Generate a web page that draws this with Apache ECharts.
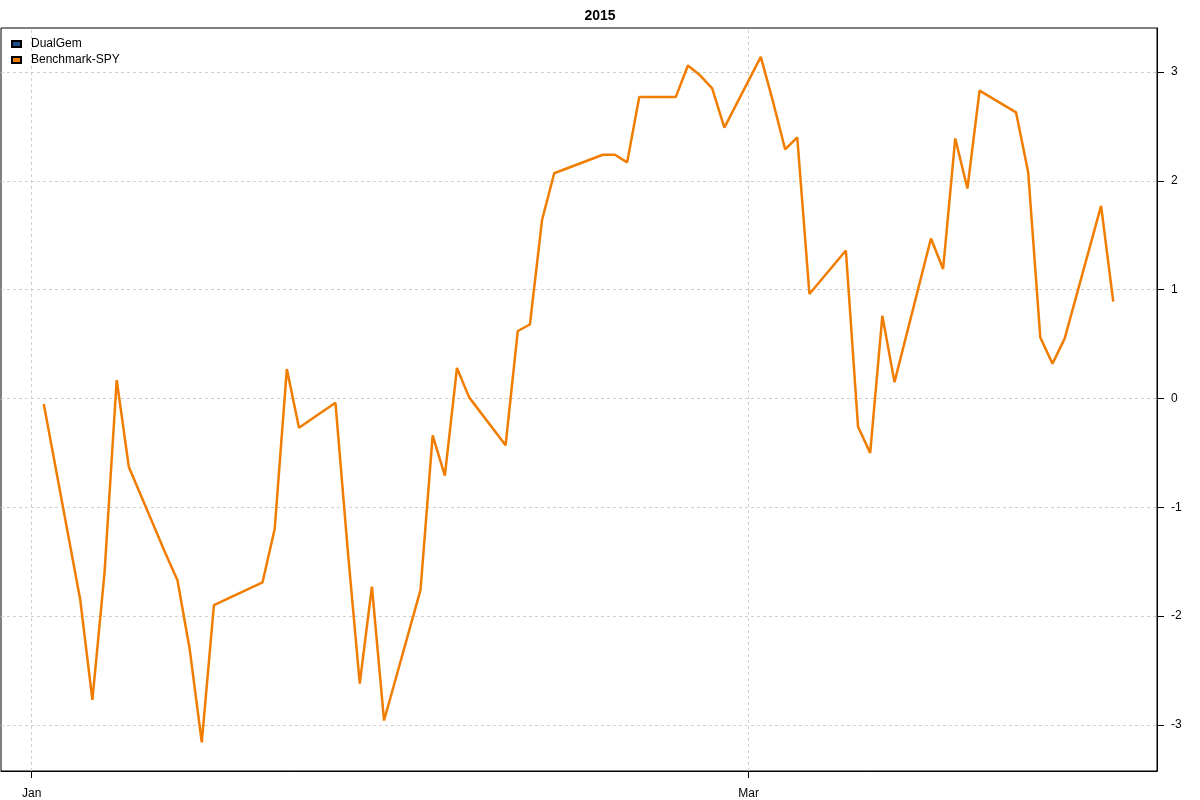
<!DOCTYPE html>
<html>
<head>
<meta charset="utf-8">
<script src="https://cdn.jsdelivr.net/npm/echarts@6/dist/echarts.min.js"></script>
<style>html,body{margin:0;padding:0;background:#fff}#c{width:1200px;height:800px}</style>
</head>
<body>
<div id="c"></div>
<script>
// ---- data ----
const dates = [
 '2015-01-02','2015-01-05','2015-01-06','2015-01-07','2015-01-08','2015-01-09',
 '2015-01-12','2015-01-13','2015-01-14','2015-01-15','2015-01-16',
 '2015-01-20','2015-01-21','2015-01-22','2015-01-23',
 '2015-01-26','2015-01-27','2015-01-28','2015-01-29','2015-01-30',
 '2015-02-02','2015-02-03','2015-02-04','2015-02-05','2015-02-06',
 '2015-02-09','2015-02-10','2015-02-11','2015-02-12','2015-02-13',
 '2015-02-17','2015-02-18','2015-02-19','2015-02-20',
 '2015-02-23','2015-02-24','2015-02-25','2015-02-26','2015-02-27',
 '2015-03-02','2015-03-03','2015-03-04','2015-03-05','2015-03-06',
 '2015-03-09','2015-03-10','2015-03-11','2015-03-12','2015-03-13',
 '2015-03-16','2015-03-17','2015-03-18','2015-03-19','2015-03-20',
 '2015-03-23','2015-03-24','2015-03-25','2015-03-26','2015-03-27',
 '2015-03-30','2015-03-31'
];
const benchmarkSPY = [
 -0.05,-1.85,-2.77,-1.60,0.17,-0.63,
 -1.42,-1.67,-2.30,-3.16,-1.90,
 -1.69,-1.20,0.27,-0.27,
 -0.04,-1.38,-2.62,-1.73,-2.96,
 -1.76,-0.34,-0.71,0.28,0.01,
 -0.43,0.62,0.68,1.64,2.07,
 2.24,2.24,2.17,2.77,
 2.77,3.06,2.97,2.85,2.49,
 3.14,2.73,2.29,2.40,0.96,
 1.36,-0.26,-0.50,0.76,0.15,
 1.47,1.19,2.39,1.93,2.83,
 2.63,2.08,0.56,0.32,0.55,
 1.77,0.89
];
const dualGem = [];
const seriesNames = ['DualGem','Benchmark-SPY'];
const yTicks = [-3,-2,-1,0,1,2,3];
const xTickDates = ['2015-01-01','2015-03-01'];
const xTickLabels = ['Jan','Mar'];
const title = '2015';

// ---- helpers: x is measured in days since 1 Jan 2015 ----
const DAY = 86400000;
function dayNum(s){const p=s.split('-').map(Number);return Math.round((Date.UTC(p[0],p[1]-1,p[2])-Date.UTC(2015,0,1))/DAY);}
const xTickDays = xTickDates.map(dayNum);
const labelMap = {};
xTickDays.forEach((t,i)=>labelMap[t]=xTickLabels[i]);

const spyData = dates.map((d,i)=>[dayNum(d), benchmarkSPY[i]]);
const dgData = dualGem.map((v,i)=>[dayNum(dates[i]), v]);

const gridLineStyle = {color:'#cfcfcf', type:[3,3], width:1};
const FONT = 'Liberation Sans, Arial, sans-serif';

const chart = echarts.init(document.getElementById('c'), null, {renderer:'canvas'});
chart.setOption({
  animation:false,
  backgroundColor:'#fff',
  textStyle:{fontFamily:FONT},
  title:{text:title, left:'center', top:4, textStyle:{fontSize:14, fontWeight:'bold', color:'#000', fontFamily:FONT}},
  legend:{
    orient:'vertical', left:11, top:38, itemWidth:9, itemHeight:6, itemGap:4, padding:0,
    data:seriesNames.map(n=>({name:n, icon:'rect'})),
    textStyle:{fontSize:12, lineHeight:12, color:'#000', padding:[0,0,0,5], fontFamily:FONT},
    selectedMode:false
  },
  grid:{left:1, right:43, top:28, bottom:29, show:true, borderColor:'#000', borderWidth:1, containLabel:false},
  xAxis:{
    type:'value',
    min:-2.52, max:92.6,
    axisLine:{show:true, onZero:false, lineStyle:{color:'#000', width:1}},
    axisTick:{show:true, length:7, customValues:xTickDays, lineStyle:{color:'#000'}},
    axisLabel:{show:true, customValues:xTickDays, margin:17, fontSize:12, color:'#000', fontFamily:FONT,
      formatter:(v)=>labelMap[Math.round(v)] || ''},
    splitLine:{show:false}
  },
  yAxis:{
    type:'value', position:'right',
    min:-3.424, max:3.405,
    axisLine:{show:true, onZero:false, lineStyle:{color:'#000', width:1}},
    axisTick:{show:true, length:7, customValues:yTicks, lineStyle:{color:'#000'}},
    axisLabel:{show:true, customValues:yTicks, margin:14, fontSize:12, color:'#000', fontFamily:FONT},
    splitLine:{show:false}
  },
  series:[
    {
      name:seriesNames[0], type:'line', data:dgData, showSymbol:false, z:1,
      itemStyle:{color:'#1A4F8A', borderColor:'#000', borderWidth:1},
      lineStyle:{color:'#1A4F8A', width:2.5},
      markLine:{
        silent:true, symbol:'none', label:{show:false}, z:1,
        lineStyle:gridLineStyle,
        data:[...yTicks.map(v=>({yAxis:v})), ...xTickDays.map(t=>({xAxis:t}))]
      }
    },
    {
      name:seriesNames[1], type:'line', data:spyData, showSymbol:false, z:3,
      itemStyle:{color:'#F07D00', borderColor:'#000', borderWidth:1},
      lineStyle:{color:'#F07D00', width:2.5}
    }
  ]
});
</script>
</body>
</html>
